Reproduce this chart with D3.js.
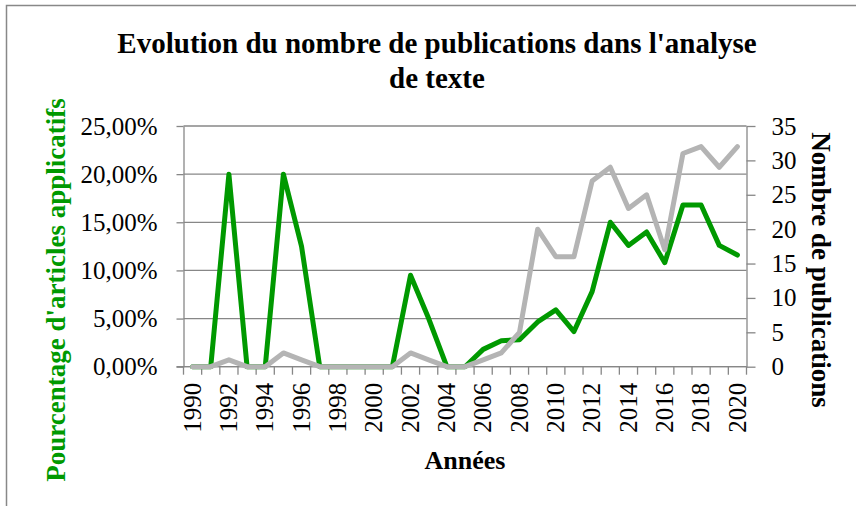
<!DOCTYPE html>
<html>
<head>
<meta charset="utf-8">
<script src="https://cdn.jsdelivr.net/npm/d3@7"></script>
<style>
  body { margin: 0; background: #fff; }
  text { font-family: "Liberation Serif", "Times New Roman", serif; }
</style>
</head>
<body>
<div class="chart"></div>
<script>
const w = 856;
const h = 506;

// data
const years = [1990, 1991, 1992, 1993, 1994, 1995, 1996, 1997, 1998, 1999, 2000,
  2001, 2002, 2003, 2004, 2005, 2006, 2007, 2008, 2009, 2010,
  2011, 2012, 2013, 2014, 2015, 2016, 2017, 2018, 2019, 2020];
const pctApplied = [0, 0, 0.20, 0, 0, 0.20, 0.125, 0, 0, 0, 0,
  0, 0.095, 0.05, 0, 0, 0.018, 0.027, 0.028, 0.0465, 0.059,
  0.0365, 0.078, 0.15, 0.126, 0.14, 0.108, 0.168, 0.168, 0.126, 0.116];
const nbPublications = [0, 0, 1, 0, 0, 2, 1, 0, 0, 0, 0,
  0, 2, 1, 0, 0, 1, 2, 5, 20, 16,
  16, 27, 29, 23, 25, 17, 31, 32, 29, 32];
const pctTicks = [0, 0.05, 0.10, 0.15, 0.20, 0.25];
const nbTicks = [0, 5, 10, 15, 20, 25, 30, 35];
const yearLabels = [1990, 1992, 1994, 1996, 1998, 2000, 2002, 2004, 2006, 2008,
  2010, 2012, 2014, 2016, 2018, 2020];

const plotLeft = 183.5, plotRight = 746.5, plotTop = 126, plotBottom = 366.7;
const green = '#009900';
const grey = '#b4b4b4';
const gridColor = '#878787';

const fr = d3.formatLocale({ decimal: ',', thousands: ' ', grouping: [3], currency: ['', '€'] });

const svg = d3.select('.chart').append('svg')
  .attr('width', w)
  .attr('height', h);

// chart border (only left/top are visible in the crop)
svg.append('rect')
  .attr('x', 6.5).attr('y', 5.5)
  .attr('width', 900).attr('height', 600)
  .attr('fill', 'none')
  .attr('stroke', '#888').attr('stroke-width', 1.5);

const xScale = d3.scaleBand().domain(years).range([plotLeft, plotRight]).padding(0);
const yLeft = d3.scaleLinear().domain([0, 0.25]).range([plotBottom, plotTop]);
const yRight = d3.scaleLinear().domain([0, 35]).range([plotBottom, plotTop]);

// gridlines
svg.append('g')
  .selectAll('line')
  .data(pctTicks)
  .enter()
  .append('line')
  .attr('x1', plotLeft).attr('x2', plotRight)
  .attr('y1', (d) => yLeft(d)).attr('y2', (d) => yLeft(d))
  .attr('stroke', gridColor).attr('stroke-width', 1.3);

// left axis
const leftAxis = svg.append('g')
  .attr('transform', `translate(${plotLeft},0)`)
  .call(d3.axisLeft(yLeft).tickValues(pctTicks).tickFormat(fr.format('.2%'))
    .tickSize(7).tickPadding(19).tickSizeOuter(0));
leftAxis.selectAll('text').style('font-size', '25px').attr('fill', '#000');

// right axis
const rightAxis = svg.append('g')
  .attr('transform', `translate(${plotRight},0)`)
  .call(d3.axisRight(yRight).tickValues(nbTicks)
    .tickSize(9).tickPadding(16).tickSizeOuter(0));
rightAxis.selectAll('text').style('font-size', '25px').attr('fill', '#000');

[leftAxis, rightAxis].forEach((a) => {
  a.select('.domain').attr('stroke', gridColor).attr('stroke-width', 1.3);
  a.selectAll('.tick line').attr('stroke', gridColor).attr('stroke-width', 1.3);
});

// bottom axis: line + ticks between categories
svg.append('line')
  .attr('x1', plotLeft - 7).attr('x2', plotRight)
  .attr('y1', plotBottom).attr('y2', plotBottom)
  .attr('stroke', gridColor).attr('stroke-width', 1.3);
svg.append('g')
  .selectAll('line')
  .data(years.concat(['end']))
  .enter()
  .append('line')
  .attr('x1', (d) => (d === 'end' ? plotRight : xScale(d)))
  .attr('x2', (d) => (d === 'end' ? plotRight : xScale(d)))
  .attr('y1', plotBottom).attr('y2', plotBottom + 8)
  .attr('stroke', gridColor).attr('stroke-width', 1.3);

const xAxis = svg.append('g')
  .attr('transform', `translate(0,${plotBottom})`)
  .call(d3.axisBottom(xScale).tickValues(yearLabels).tickSize(0).tickFormat(d3.format('d')));
xAxis.select('.domain').remove();
xAxis.selectAll('text')
  .style('font-size', '25px')
  .attr('fill', '#000')
  .attr('text-anchor', 'end')
  .attr('dy', '0.33em')
  .attr('y', 0)
  .attr('transform', 'translate(0,16) rotate(-90)');

// lines
const pctLine = d3.line()
  .x((d, i) => xScale(years[i]) + xScale.bandwidth() / 2)
  .y((d) => yLeft(d));
const nbLine = d3.line()
  .x((d, i) => xScale(years[i]) + xScale.bandwidth() / 2)
  .y((d) => yRight(d));

svg.append('path')
  .datum(pctApplied)
  .attr('d', pctLine)
  .attr('fill', 'none')
  .attr('stroke', green).attr('stroke-width', 5)
  .attr('stroke-linejoin', 'round').attr('stroke-linecap', 'round');

svg.append('path')
  .datum(nbPublications)
  .attr('d', nbLine)
  .attr('fill', 'none')
  .attr('stroke', grey).attr('stroke-width', 5)
  .attr('stroke-linejoin', 'round').attr('stroke-linecap', 'round');

// title
const title = svg.append('text')
  .attr('text-anchor', 'middle')
  .style('font-size', '29px').style('font-weight', 'bold');
title.append('tspan').attr('x', 437).attr('y', 53).text("Evolution du nombre de publications dans l'analyse");
title.append('tspan').attr('x', 437).attr('y', 88).text('de texte');

// axis titles
svg.append('text')
  .attr('transform', 'translate(65,290) rotate(-90)')
  .attr('text-anchor', 'middle')
  .attr('fill', green)
  .style('font-size', '27px').style('font-weight', 'bold')
  .text("Pourcentage d'articles applicatifs");

svg.append('text')
  .attr('transform', 'translate(812,270) rotate(90)')
  .attr('text-anchor', 'middle')
  .style('font-size', '27px').style('font-weight', 'bold')
  .text('Nombre de publications');

svg.append('text')
  .attr('x', (plotLeft + plotRight) / 2).attr('y', 469)
  .attr('text-anchor', 'middle')
  .style('font-size', '26px').style('font-weight', 'bold')
  .text('Années');
</script>
</body>
</html>
